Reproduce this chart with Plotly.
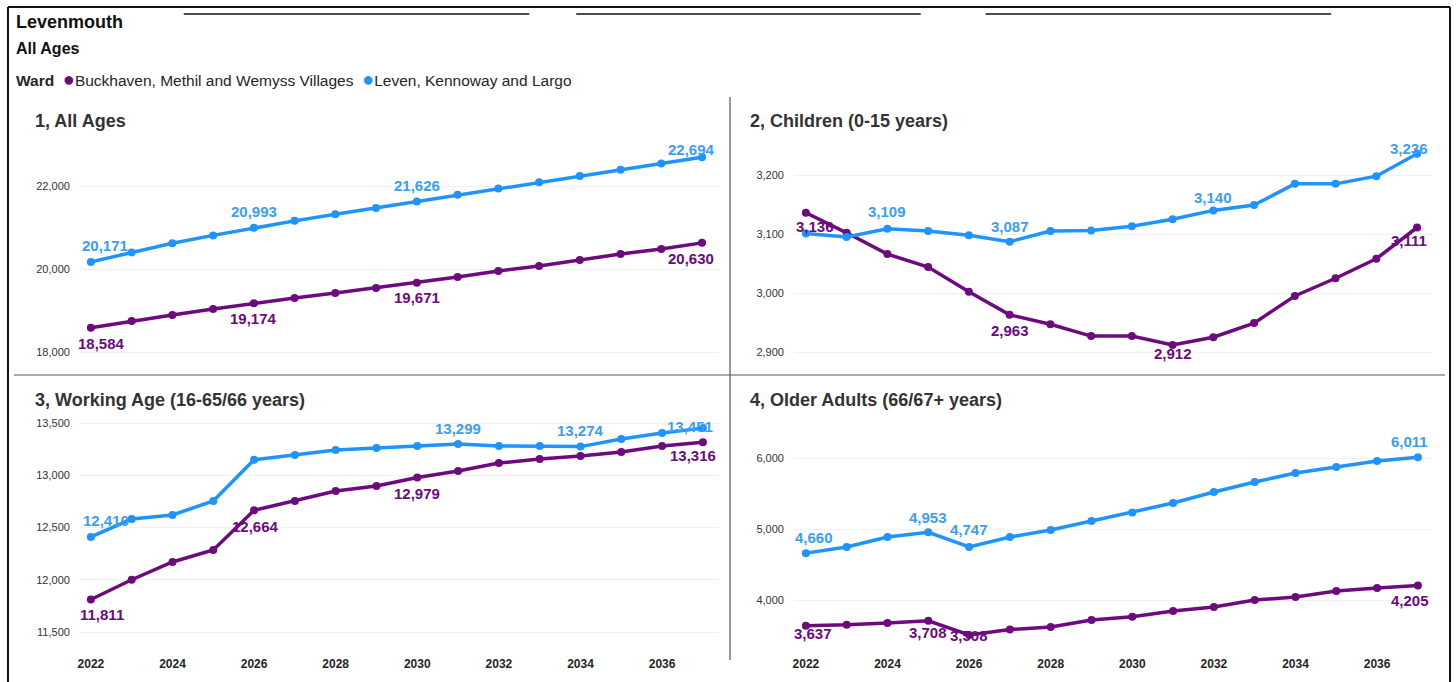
import plotly.graph_objects as go

# ---------------- data ----------------
years = list(range(2022, 2038))
ward_names = ["Buckhaven, Methil and Wemyss Villages", "Leven, Kennoway and Largo"]
panel_titles = ["1, All Ages", "2, Children (0-15 years)",
                "3, Working Age (16-65/66 years)", "4, Older Adults (66/67+ years)"]

bmw_all = [18584, 18747, 18891, 19036, 19174, 19300, 19420, 19542, 19671, 19807, 19952, 20072, 20217, 20361, 20482, 20630]
lkl_all = [20171, 20400, 20620, 20810, 20993, 21160, 21320, 21470, 21626, 21790, 21940, 22090, 22240, 22390, 22540, 22694]

bmw_ch = [3136, 3102, 3066, 3044, 3002, 2963, 2947, 2927, 2927, 2912, 2925, 2949, 2995, 3025, 3058, 3111]
lkl_ch = [3101, 3095, 3109, 3105, 3098, 3087, 3105, 3106, 3113, 3125, 3140, 3149, 3185, 3185, 3198, 3236]

bmw_wa = [11811, 12000, 12170, 12285, 12664, 12754, 12850, 12898, 12979, 13041, 13117, 13155, 13184, 13222, 13280, 13316]
lkl_wa = [12410, 12581, 12620, 12754, 13148, 13193, 13241, 13260, 13280, 13299, 13280, 13280, 13274, 13347, 13404, 13451]

bmw_old = [3637, 3650, 3676, 3708, 3508, 3583, 3620, 3718, 3765, 3845, 3901, 4000, 4042, 4127, 4169, 4205]
lkl_old = [4660, 4746, 4887, 4953, 4747, 4887, 4986, 5113, 5233, 5366, 5521, 5662, 5789, 5873, 5958, 6011]

y_dticks = [2000, 100, 500, 1000]
x_tickvals = list(range(2022, 2037, 2))

# ---------------- style ----------------
W, H = 1456, 682
PURPLE = "#6C0A7E"
BLUE = "#1F93FF"
BLUE_LBL = "#3A9EF5"
FONT = "Arial, Liberation Sans, sans-serif"

panels = [
    dict(b=bmw_all, l=lkl_all, xd=(78, 718), yd=(135, 365), xa=((2022, 89), (2037, 701)), ya=((22000, 186), (18000, 352))),
    dict(b=bmw_ch, l=lkl_ch, xd=(793, 1432), yd=(135, 365), xa=((2022, 805), (2037, 1417)), ya=((3200, 175), (2900, 352))),
    dict(b=bmw_wa, l=lkl_wa, xd=(78, 718), yd=(410, 645), xa=((2022, 89), (2036, 661)), ya=((13500, 423), (11500, 632))),
    dict(b=bmw_old, l=lkl_old, xd=(793, 1432), yd=(410, 645), xa=((2022, 805), (2036, 1377)), ya=((6000, 458), (4000, 600))),
]

# label placement: (index into years, xshift, yshift)
lbl_b = [
    [(0, 11, -16), (4, 0, -15), (8, 0, -15), (15, -11, -16)],
    [(0, 9, -14), (5, 0, -16), (9, 0, -9), (15, -8, -13)],
    [(0, 11, -15), (4, 1, -16), (8, 0, -16), (15, -10, -13)],
    [(0, 7, -8), (3, 0, -12), (4, 0, -1), (15, -8, -15)],
]
lbl_l = [
    [(0, 14, 16), (4, 0, 16), (8, 0, 16), (15, -11, 8)],
    [(2, 0, 17), (5, 0, 15), (10, 0, 13), (15, -8, 5)],
    [(0, 15, 16), (9, 0, 16), (12, 0, 16), (15, -13, 2)],
    [(0, 8, 16), (3, 0, 15), (4, 0, 17), (15, -8, 16)],
]


def px_range(dom, anchors):
    (v1, p1), (v2, p2) = anchors
    s = (v2 - v1) / (p2 - p1)
    return [v1 + (dom[0] - p1) * s, v1 + (dom[1] - p1) * s]


fig = go.Figure()
annotations = []
layout_axes = {}

for i, p in enumerate(panels):
    n = i + 1
    xname = "x" if n == 1 else f"x{n}"
    yname = "y" if n == 1 else f"y{n}"
    for vals, col in ((p["b"], PURPLE), (p["l"], BLUE)):
        fig.add_trace(go.Scatter(
            x=years, y=vals, mode="lines+markers", xaxis=xname, yaxis=yname,
            line=dict(color=col, width=3.5), marker=dict(color=col, size=8),
            showlegend=False, hoverinfo="x+y"))
    xr = px_range(p["xd"], p["xa"])
    yr_top_bottom = px_range(p["yd"], p["ya"])
    layout_axes["xaxis" if n == 1 else f"xaxis{n}"] = dict(
        domain=[p["xd"][0] / W, p["xd"][1] / W], range=xr, anchor=yname,
        showgrid=False, zeroline=False, showline=False,
        tickvals=x_tickvals, showticklabels=(n >= 3), ticklabelstandoff=10,
        tickfont=dict(family=FONT, size=12, color="#252525", weight="bold"))
    layout_axes["yaxis" if n == 1 else f"yaxis{n}"] = dict(
        domain=[1 - p["yd"][1] / H, 1 - p["yd"][0] / H],
        range=[yr_top_bottom[1], yr_top_bottom[0]], anchor=xname,
        dtick=y_dticks[i], tickformat=",", showgrid=True, gridcolor="#F1F1F1", gridwidth=1,
        zeroline=False, showline=False, ticklabelstandoff=9,
        tickfont=dict(family=FONT, size=11, color="#333333"))
    for vals, spec, col in ((p["b"], lbl_b[i], PURPLE), (p["l"], lbl_l[i], BLUE_LBL)):
        for idx, xs, ys in spec:
            annotations.append(dict(
                x=years[idx], y=vals[idx], xref=xname, yref=yname,
                text=f"<b>{vals[idx]:,}</b>", showarrow=False, xshift=xs, yshift=ys,
                font=dict(family=FONT, size=15, color=col)))

# panel titles
title_pos = [(31, 121), (747, 121), (31, 400), (747, 400)]
for t, (tx, ty) in zip(panel_titles, title_pos):
    annotations.append(dict(x=tx / W, y=1 - ty / H, xref="paper", yref="paper", xanchor="left",
                            yanchor="middle", text=f"<b>{t}</b>", showarrow=False,
                            font=dict(family=FONT, size=18, color="#333333")))

# header
annotations += [
    dict(x=12 / W, y=1 - 22 / H, xref="paper", yref="paper", xanchor="left", yanchor="middle",
         text="<b>Levenmouth</b>", showarrow=False, font=dict(family=FONT, size=18, color="#111111")),
    dict(x=12 / W, y=1 - 48 / H, xref="paper", yref="paper", xanchor="left", yanchor="middle",
         text="<b>All Ages</b>", showarrow=False, font=dict(family=FONT, size=16, color="#111111")),
    dict(x=12 / W, y=1 - 78.5 / H, xref="paper", yref="paper", xanchor="left", yanchor="middle",
         text=(f"<b>Ward</b>  <span style='color:{PURPLE};font-size:20px'>●</span>{ward_names[0]}  "
               f"<span style='color:{BLUE};font-size:20px'>●</span>{ward_names[1]}"),
         showarrow=False, font=dict(family=FONT, size=15.5, color="#252525")),
]


def hline(x0, x1, y, color="#111111", width=1.5):
    return dict(type="line", xref="paper", yref="paper", x0=x0 / W, x1=x1 / W,
                y0=1 - y / H, y1=1 - y / H, line=dict(color=color, width=width))


def vline(x, y0, y1, color="#111111", width=1.5):
    return dict(type="line", xref="paper", yref="paper", x0=x / W, x1=x / W,
                y0=1 - y0 / H, y1=1 - y1 / H, line=dict(color=color, width=width))


shapes = [
    hline(6, 1450, 7, width=2),
    vline(6, 7, 682, width=2),
    vline(1450, 7, 682, width=2),
    hline(182, 528, 14), hline(575, 920, 14), hline(985, 1331, 14),
    vline(729, 97, 660, color="#555555", width=1.2),
    hline(12, 1445, 375, color="#555555", width=1.2),
]

fig.update_layout(
    width=W, height=H, margin=dict(l=0, r=0, t=0, b=0),
    paper_bgcolor="white", plot_bgcolor="white",
    annotations=annotations, shapes=shapes, **layout_axes)

fig.write_html("out.html")
